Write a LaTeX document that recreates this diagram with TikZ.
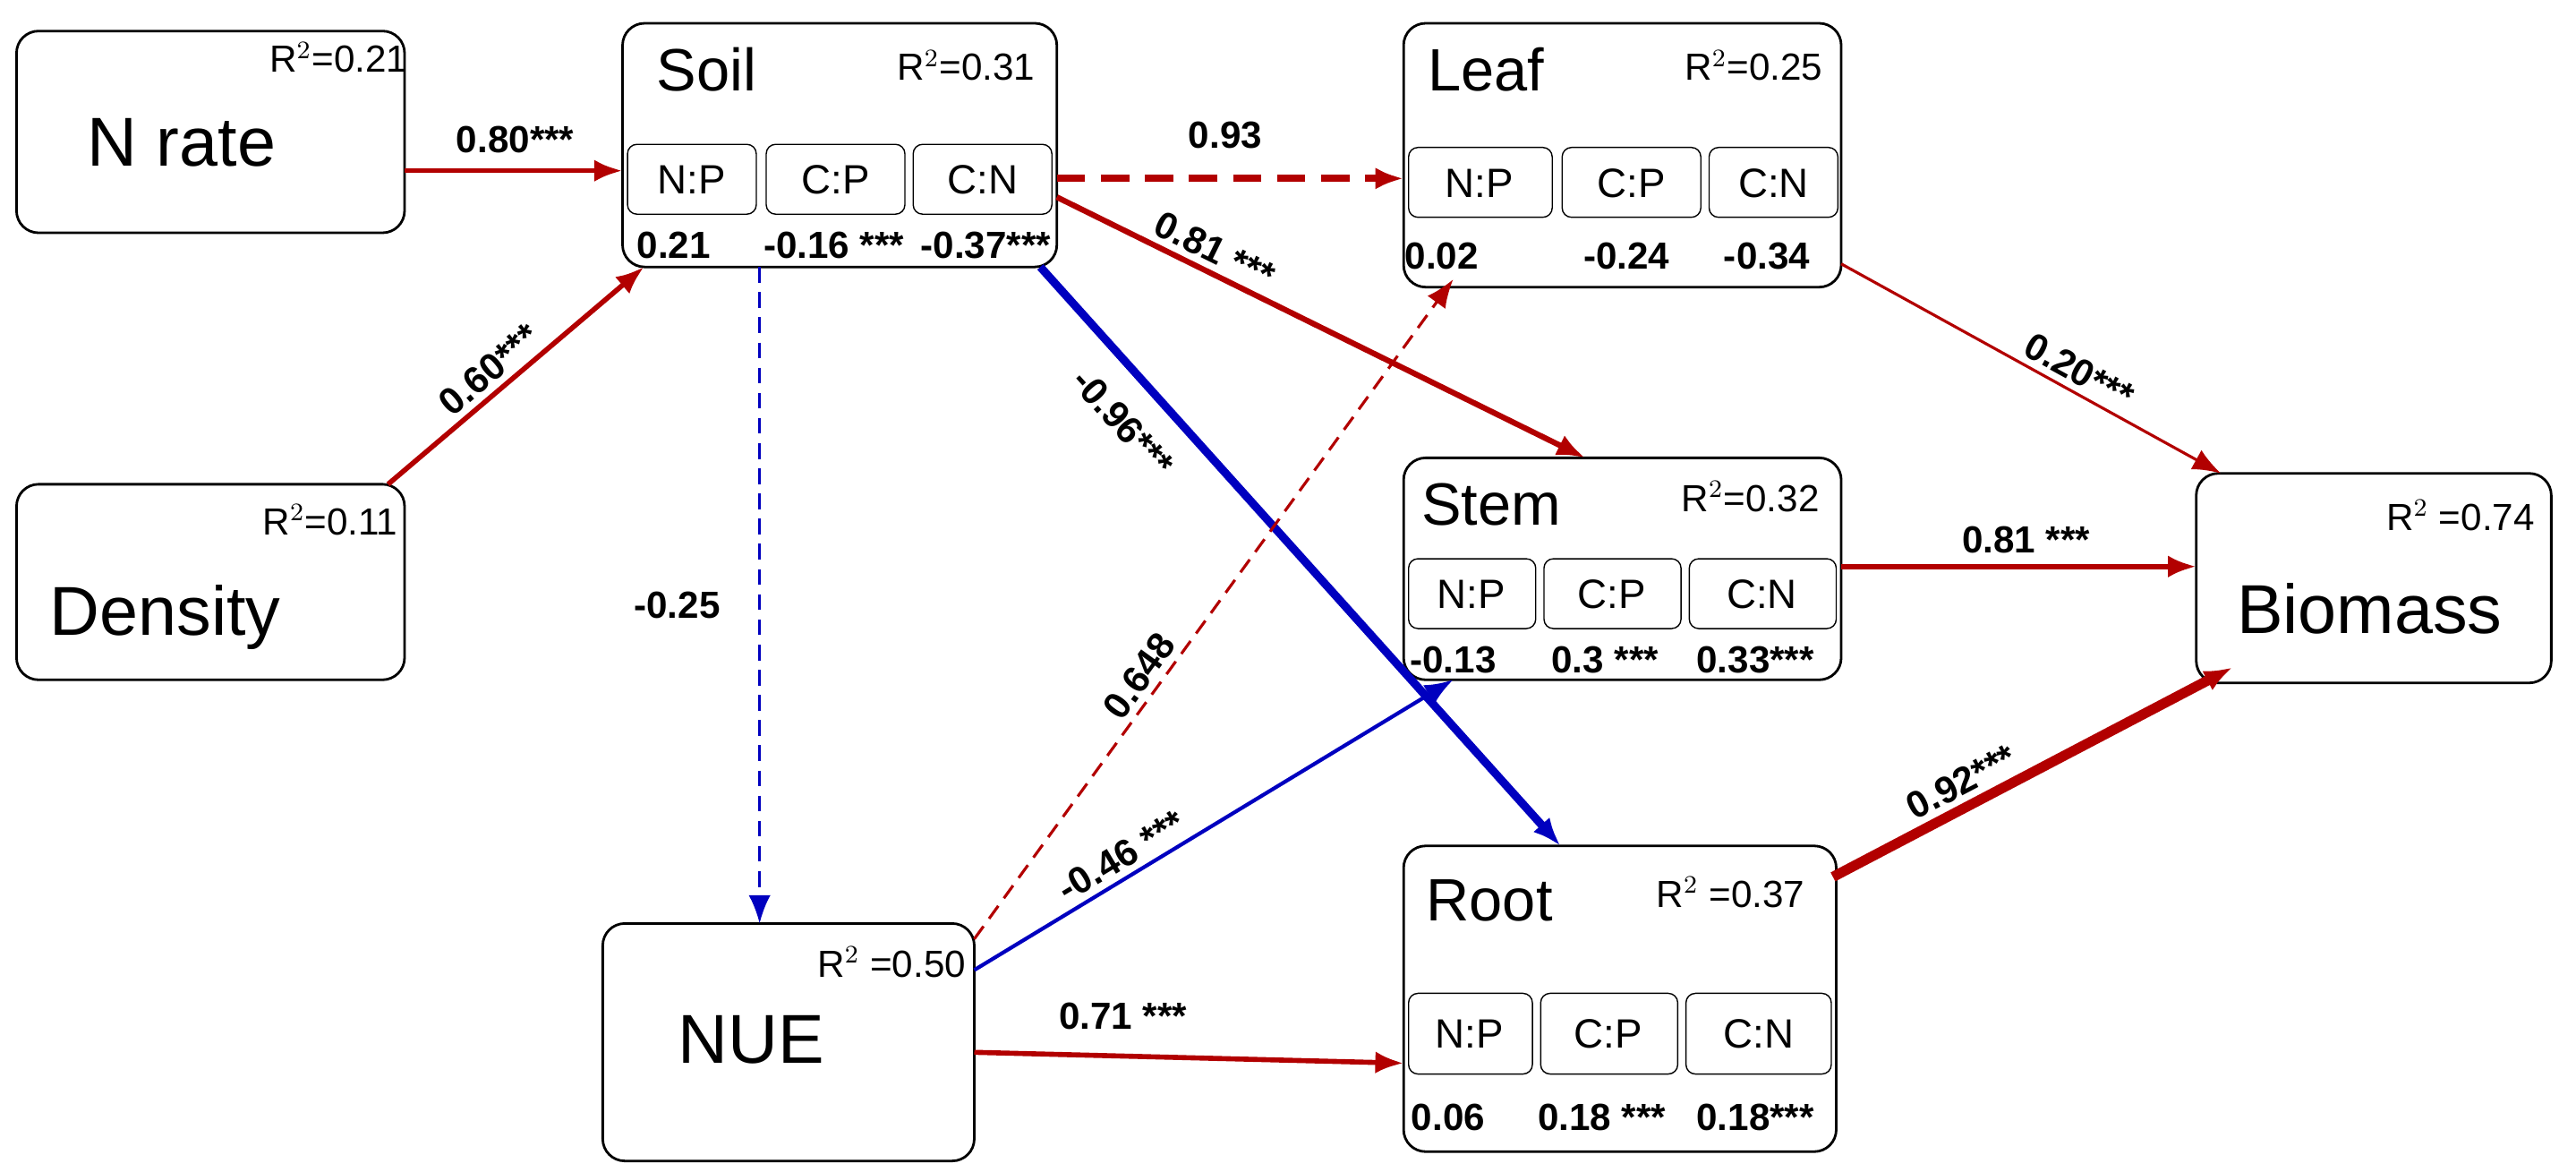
\documentclass[tikz,border=0pt]{standalone}
\usepackage{fontspec}
\setmainfont{Liberation Sans}
\usetikzlibrary{arrows.meta}
\begin{document}
\begin{tikzpicture}[x=0.01845cm,y=-0.01734cm,
  sub/.style={inner sep=0pt,font=\fontsize{13}{13}\selectfont},
  big/.style={font=\fontsize{22}{22}\selectfont},
  ttl/.style={font=\fontsize{19}{19}\selectfont},
  rr/.style={font=\fontsize{12}{12}\selectfont},
  num/.style={font=\bfseries\fontsize{12}{12}\selectfont},
  lab/.style={font=\bfseries\fontsize{12}{12}\selectfont,inner sep=2pt},
  mbox/.style={thick,rounded corners=7pt},
  sbox/.style={rounded corners=3pt},
  redA/.style={draw=red!70!black,-{Latex[length=9pt,width=7pt]}},
  blueA/.style={draw=blue!75!black,-{Latex[length=9pt,width=7pt]}}]
\useasboundingbox (0,0) rectangle (1560,755);
% N rate / Density
\draw[mbox] (10,20) rectangle (245,150);
\node[big] (nrt) at (110,92) {N rate};
\node[rr] (nrr) at (205,37) {R$^2$=0.21};
\draw[mbox] (10,312) rectangle (245,438);
\node[big] (dent) at (100,398) {Density};
\node[rr] (denr) at (200,335) {R$^2$=0.11};
% Soil
\draw[mbox] (377,15) rectangle (640,172);
\node[ttl] (soilt) at (428,45) {Soil};
\node[rr] (soilr) at (585,42) {R$^2$=0.31};
\draw[sbox] (380,93) rectangle (458,138); \node[sub] (s1) at (419,116) {N:P};
\draw[sbox] (464,93) rectangle (548,138); \node[sub] (s2) at (506,116) {C:P};
\draw[sbox] (553,93) rectangle (637,138); \node[sub] (s3) at (595,116) {C:N};
\node[num] at (408,158) {0.21}; \node[num] at (505,158) {-0.16 ***}; \node[num] at (597,158) {-0.37***};
% Leaf
\draw[mbox] (850,15) rectangle (1115,185);
\node[ttl] at (900,45) {Leaf};
\node[rr] at (1062,42) {R$^2$=0.25};
\draw[sbox] (853,95) rectangle (940,140); \node[sub] at (896,118) {N:P};
\draw[sbox] (946,95) rectangle (1030,140); \node[sub] at (988,118) {C:P};
\draw[sbox] (1035,95) rectangle (1113,140); \node[sub] at (1074,118) {C:N};
\node[num] at (873,165) {0.02}; \node[num] at (985,165) {-0.24}; \node[num] at (1070,165) {-0.34};
% Stem
\draw[mbox] (850,295) rectangle (1115,438);
\node[ttl] at (903,325) {Stem};
\node[rr] at (1060,320) {R$^2$=0.32};
\draw[sbox] (853,360) rectangle (930,405); \node[sub] at (891,383) {N:P};
\draw[sbox] (935,360) rectangle (1018,405); \node[sub] at (976,383) {C:P};
\draw[sbox] (1023,360) rectangle (1112,405); \node[sub] at (1067,383) {C:N};
\node[num] at (880,425) {-0.13}; \node[num] at (972,425) {0.3 ***}; \node[num] at (1063,425) {0.33***};
% Root
\draw[mbox] (850,545) rectangle (1112,742);
\node[ttl] at (902,580) {Root};
\node[rr] at (1048,575) {R$^2$ =0.37};
\draw[sbox] (853,640) rectangle (928,692); \node[sub] at (890,666) {N:P};
\draw[sbox] (933,640) rectangle (1016,692); \node[sub] at (974,666) {C:P};
\draw[sbox] (1021,640) rectangle (1109,692); \node[sub] at (1065,666) {C:N};
\node[num] at (877,720) {0.06}; \node[num] at (970,720) {0.18 ***}; \node[num] at (1063,720) {0.18***};
% NUE
\draw[mbox] (365,595) rectangle (590,748);
\node[big] at (455,670) {NUE};
\node[rr] at (540,620) {R$^2$ =0.50};
% Biomass
\draw[mbox] (1330,305) rectangle (1545,440);
\node[big] at (1435,392) {Biomass};
\node[rr] at (1490,332) {R$^2$ =0.74};
% coordinates
\coordinate (a1) at (245,110); \coordinate (a2) at (377,110);
\coordinate (b1) at (235,312); \coordinate (b2) at (390,172);
\coordinate (c1) at (640,115); \coordinate (c2) at (850,115);
\coordinate (d1) at (640,127); \coordinate (d2) at (960,295);
\coordinate (e1) at (630,172); \coordinate (e2) at (945,545);
\coordinate (f1) at (460,172); \coordinate (f2) at (460,595);
\coordinate (g1) at (590,605); \coordinate (g2) at (880,180);
\coordinate (h1) at (590,625); \coordinate (h2) at (880,438);
\coordinate (i1) at (590,678); \coordinate (i2) at (850,685);
\coordinate (j1) at (1115,170); \coordinate (j2) at (1345,305);
\coordinate (k1) at (1115,365); \coordinate (k2) at (1330,365);
\coordinate (l1) at (1110,565); \coordinate (l2) at (1352,430);
% edges
\draw[redA,line width=1.6pt] (a1) -- (a2);
\node[lab] at (312,90) {0.80***};
\draw[redA,line width=1.6pt] (b1) -- node[lab,sloped,above,pos=0.45] {0.60***} (b2);
\draw[redA,line width=2.2pt,dash pattern=on 9pt off 5pt] (c1) -- (c2);
\node[lab] at (742,87) {0.93};
\draw[redA,line width=1.8pt] (d1) -- node[lab,sloped,above,pos=0.28] {0.81 ***} (d2);
\draw[blueA,line width=2.6pt] (e1) -- node[lab,sloped,below,pos=0.22,yshift=-6pt] {-0.96***} (e2);
\draw[blueA,line width=0.9pt,dash pattern=on 5pt off 3pt] (f1) -- (f2);
\node[lab] at (410,390) {-0.25};
\draw[redA,line width=0.9pt,dash pattern=on 5pt off 3pt] (g1) -- node[lab,sloped,above,pos=0.38] {0.648} (g2);
\draw[blueA,line width=1.2pt] (h1) -- node[lab,sloped,above,pos=0.33] {-0.46 ***} (h2);
\draw[redA,line width=1.6pt] (i1) -- (i2);
\node[lab] at (680,655) {0.71 ***};
\draw[redA,line width=0.9pt] (j1) -- node[lab,sloped,above,pos=0.6] {0.20***} (j2);
\draw[redA,line width=1.6pt] (k1) -- (k2);
\node[lab] at (1227,348) {0.81 ***};
\draw[redA,line width=3.2pt] (l1) -- node[lab,sloped,above,pos=0.35] {0.92***} (l2);
\end{tikzpicture}
\end{document}
